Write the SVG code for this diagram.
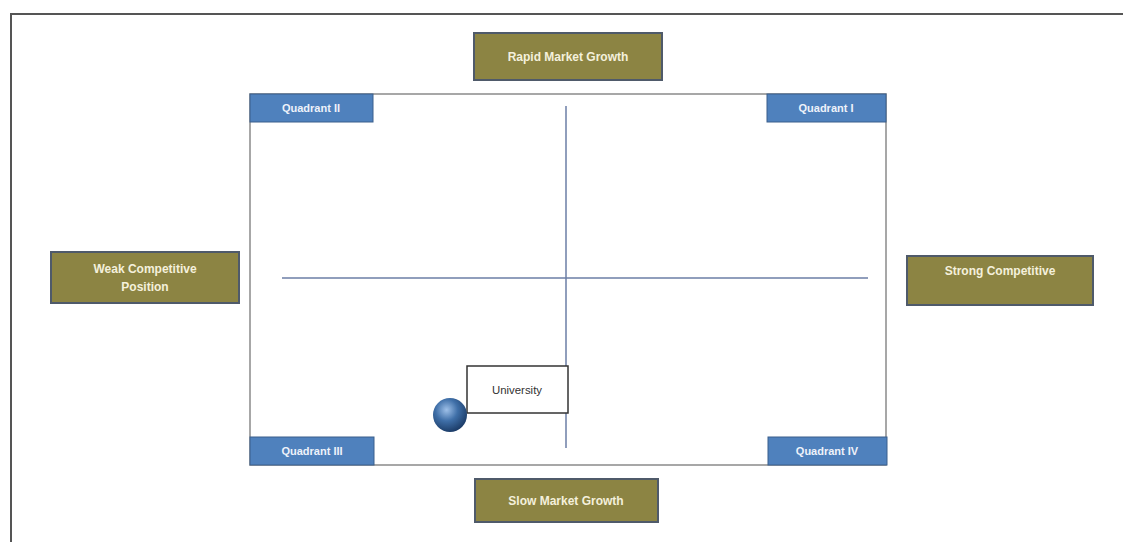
<svg xmlns="http://www.w3.org/2000/svg" width="1123" height="542" viewBox="0 0 1123 542">
<style>
.olive{fill:#8c8443;stroke:#4f5a6a;stroke-width:2}
.blue{fill:#4f81bd;stroke:#3a5f8c;stroke-width:1}
.lt{font-family:"Liberation Sans",Arial,sans-serif;font-weight:bold;font-size:12px;fill:#f4f0dc;text-anchor:middle}
.qt{font-family:"Liberation Sans",Arial,sans-serif;font-weight:bold;font-size:11px;fill:#eef2fa;text-anchor:middle}
.axis{stroke:#6b7ea6;stroke-width:1.5}
</style>
<defs>
<radialGradient id="ball" cx="0.4" cy="0.35" r="0.65">
<stop offset="0" stop-color="#9ec0e8"/>
<stop offset="0.5" stop-color="#3f6fa8"/>
<stop offset="1" stop-color="#1d3e6a"/>
</radialGradient>
</defs>
<rect x="0" y="0" width="1123" height="542" fill="#ffffff"/>
<path d="M11,542 V14 H1123" fill="none" stroke="#555555" stroke-width="2"/>
<g id="matrix">
<rect x="250" y="94" width="636" height="371" fill="#ffffff" stroke="#8a8a8a" stroke-width="1.5"/>
</g>
<g id="connectors">
<line class="axis" x1="566" y1="106" x2="566" y2="448"/>
<line class="axis" x1="282" y1="278" x2="868" y2="278"/>
</g>
<g id="rapid">
<rect class="olive" x="474" y="33" width="188" height="47"/>
<text class="lt" x="568" y="61">Rapid Market Growth</text>
</g>
<g id="slow">
<rect class="olive" x="475" y="479" width="183" height="43"/>
<text class="lt" x="566" y="505">Slow Market Growth</text>
</g>
<g id="weak">
<rect class="olive" x="51" y="252" width="188" height="51"/>
<text class="lt" x="145" y="273">Weak Competitive</text>
<text class="lt" x="145" y="291">Position</text>
</g>
<g id="strong">
<rect class="olive" x="907" y="256" width="186" height="49"/>
<text class="lt" x="1000" y="275">Strong Competitive</text>
</g>
<g id="q2">
<rect class="blue" x="250" y="94" width="123" height="28"/>
<text class="qt" x="311" y="112">Quadrant II</text>
</g>
<g id="q1">
<rect class="blue" x="767" y="94" width="119" height="28"/>
<text class="qt" x="826" y="112">Quadrant I</text>
</g>
<g id="q3">
<rect class="blue" x="250" y="437" width="124" height="28"/>
<text class="qt" x="312" y="455">Quadrant III</text>
</g>
<g id="q4">
<rect class="blue" x="768" y="437" width="119" height="28"/>
<text class="qt" x="827" y="455">Quadrant IV</text>
</g>
<g id="university">
<rect x="467" y="366" width="101" height="47" fill="#ffffff" stroke="#333333" stroke-width="1.5"/>
<text x="517" y="394" font-family="Liberation Sans,Arial,sans-serif" font-size="11" fill="#333333" text-anchor="middle" textLength="50" lengthAdjust="spacingAndGlyphs">University</text>
</g>
<g id="ball-marker">
<circle cx="450" cy="415" r="17" fill="url(#ball)"/>
</g>
</svg>
